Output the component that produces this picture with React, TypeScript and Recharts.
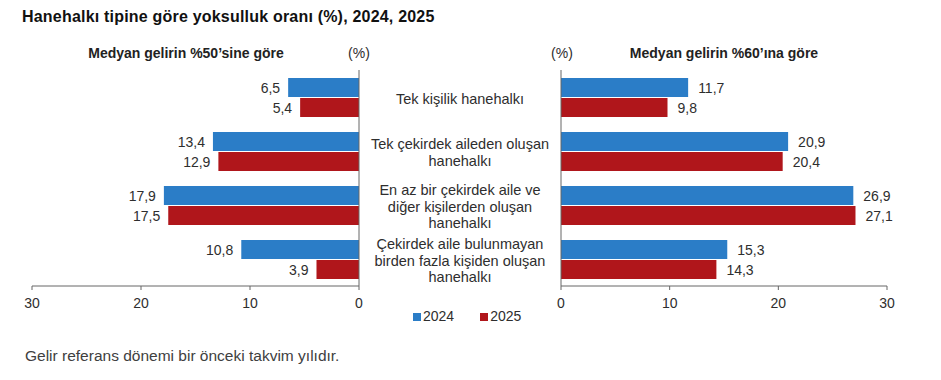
import React from "react";
import { BarChart, Bar, XAxis, YAxis, LabelList, Legend } from "recharts";

const categories = [
  "Tek kişilik hanehalkı",
  "Tek çekirdek aileden oluşan\nhanehalkı",
  "En az bir çekirdek aile ve\ndiğer kişilerden oluşan\nhanehalkı",
  "Çekirdek aile bulunmayan\nbirden fazla kişiden oluşan\nhanehalkı",
];
const median50_2024 = [6.5, 13.4, 17.9, 10.8];
const median50_2025 = [5.4, 12.9, 17.5, 3.9];
const median60_2024 = [11.7, 20.9, 26.9, 15.3];
const median60_2025 = [9.8, 20.4, 27.1, 14.3];
const xTicks = [0, 10, 20, 30];
const seriesNames = ["2024", "2025"];

const BLUE = "#2B7DC7";
const RED = "#B0161B";
const AXIS = "#666666";
const TEXT = "#2e2e2e";
const FONT = "'Liberation Sans', Arial, sans-serif";

const leftData = categories.map((c, i) => ({
  category: c,
  [seriesNames[0]]: median50_2024[i],
  [seriesNames[1]]: median50_2025[i],
}));
const rightData = categories.map((c, i) => ({
  category: c,
  [seriesNames[0]]: median60_2024[i],
  [seriesNames[1]]: median60_2025[i],
}));

const fmt = (v: number) => v.toFixed(1).replace(".", ",");

const LeftLabel = (props: any) => {
  const { x, y, width, height, value } = props;
  const left = Math.min(x, x + width);
  return (
    <text x={left - 8} y={y + height / 2} textAnchor="end" dominantBaseline="central" fontSize={14} fill={TEXT}>
      {fmt(value)}
    </text>
  );
};
const RightLabel = (props: any) => {
  const { x, y, width, height, value } = props;
  const right = Math.max(x, x + width);
  return (
    <text x={right + 10} y={y + height / 2} textAnchor="start" dominantBaseline="central" fontSize={14} fill={TEXT}>
      {fmt(value)}
    </text>
  );
};

const RIGHT_LEFT = 360;
const LABEL_CENTER = 460 - RIGHT_LEFT;

const CategoryTick = (props: any) => {
  const { y, payload } = props;
  const lines = String(payload.value).split("\n");
  const lh = 16.7;
  const startY = y + 1.5 - ((lines.length - 1) * lh) / 2;
  return (
    <text textAnchor="middle" dominantBaseline="central" fontSize={14.5} fill={TEXT}>
      {lines.map((l, i) => (
        <tspan key={i} x={LABEL_CENTER} y={startY + i * lh}>
          {l}
        </tspan>
      ))}
    </text>
  );
};

const tickStyle = { fontSize: 14, fill: TEXT };

export default function App() {
  return (
    <div
      style={{
        position: "absolute",
        left: 0,
        top: 0,
        width: 941,
        height: 380,
        background: "#fff",
        fontFamily: FONT,
        color: TEXT,
      }}
    >
      <div style={{ position: "absolute", left: 22, top: 8, fontSize: 16, letterSpacing: "0.2px", lineHeight: "18px", fontWeight: "bold", color: "#111", whiteSpace: "nowrap" }}>
        Hanehalkı tipine göre yoksulluk oranı (%), 2024, 2025
      </div>
      <div style={{ position: "absolute", left: 186, top: 45, transform: "translateX(-50%)", fontSize: 14, lineHeight: "16px", fontWeight: "bold", color: "#222", whiteSpace: "nowrap" }}>
        Medyan gelirin %50’sine göre
      </div>
      <div style={{ position: "absolute", left: 359, top: 45, transform: "translateX(-50%)", fontSize: 14, lineHeight: "16px", color: TEXT, whiteSpace: "nowrap" }}>
        (%)
      </div>
      <div style={{ position: "absolute", left: 562, top: 45, transform: "translateX(-50%)", fontSize: 14, lineHeight: "16px", color: TEXT, whiteSpace: "nowrap" }}>
        (%)
      </div>
      <div style={{ position: "absolute", left: 724, top: 45, transform: "translateX(-50%)", fontSize: 14, lineHeight: "16px", fontWeight: "bold", color: "#222", whiteSpace: "nowrap" }}>
        Medyan gelirin %60’ına göre
      </div>

      <div style={{ position: "absolute", left: 0, top: 0 }}>
        <BarChart
          width={380}
          height={330}
          data={leftData}
          layout="vertical"
          margin={{ top: 70, right: 20, left: 32, bottom: 14 }}
          barSize={19}
          barGap={1}
        >
          <XAxis
            type="number"
            domain={[0, 30]}
            ticks={xTicks}
            reversed
            height={30}
            tickSize={4}
            tickMargin={8}
            tick={tickStyle}
            stroke={AXIS}
            axisLine={{ stroke: AXIS }}
            tickLine={{ stroke: AXIS }}
            interval={0}
          />
          <YAxis type="category" dataKey="category" orientation="right" width={1} tick={false} tickLine={false} axisLine={{ stroke: AXIS }} />
          <Bar dataKey={seriesNames[0]} fill={BLUE} isAnimationActive={false}>
            <LabelList dataKey={seriesNames[0]} content={LeftLabel} />
          </Bar>
          <Bar dataKey={seriesNames[1]} fill={RED} isAnimationActive={false}>
            <LabelList dataKey={seriesNames[1]} content={LeftLabel} />
          </Bar>
        </BarChart>
      </div>

      <div style={{ position: "absolute", left: RIGHT_LEFT, top: 0 }}>
        <BarChart
          width={581}
          height={330}
          data={rightData}
          layout="vertical"
          margin={{ top: 70, right: 54, left: 0, bottom: 14 }}
          barSize={19}
          barGap={1}
        >
          <XAxis
            type="number"
            domain={[0, 30]}
            ticks={xTicks}
            height={30}
            tickSize={4}
            tickMargin={8}
            tick={tickStyle}
            stroke={AXIS}
            axisLine={{ stroke: AXIS }}
            tickLine={{ stroke: AXIS }}
            interval={0}
          />
          <YAxis
            type="category"
            dataKey="category"
            orientation="left"
            width={201}
            tickLine={false}
            axisLine={{ stroke: AXIS }}
            tick={(p: any) => <CategoryTick {...p} />}
            interval={0}
          />
          <Legend
            layout="horizontal"
            verticalAlign="middle"
            align="center"
            iconType="square"
            iconSize={8}
            wrapperStyle={{ left: 53, top: 308, width: "auto", fontSize: 14, lineHeight: "17px" }}
            formatter={(value: any) => <span style={{ color: TEXT, marginLeft: -2, marginRight: 16 }}>{value}</span>}
          />
          <Bar dataKey={seriesNames[0]} name={seriesNames[0]} fill={BLUE} isAnimationActive={false}>
            <LabelList dataKey={seriesNames[0]} content={RightLabel} />
          </Bar>
          <Bar dataKey={seriesNames[1]} name={seriesNames[1]} fill={RED} isAnimationActive={false}>
            <LabelList dataKey={seriesNames[1]} content={RightLabel} />
          </Bar>
        </BarChart>
      </div>

      <div style={{ position: "absolute", left: 25, top: 347, fontSize: 15.5, lineHeight: "18px", color: "#404040", whiteSpace: "nowrap" }}>
        Gelir referans dönemi bir önceki takvim yılıdır.
      </div>
    </div>
  );
}
